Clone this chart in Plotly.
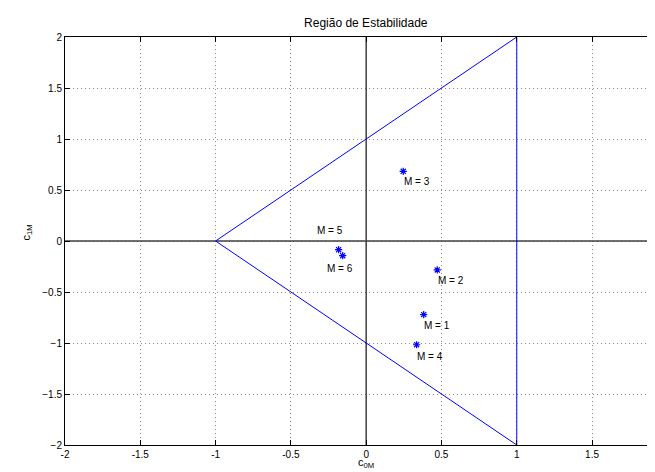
import plotly.graph_objects as go

# Stability region (triangle) vertices
tri_x = [-1, 1, 1, -1]
tri_y = [0, 2, -2, 0]

# Points for each M
m_labels = ["M = 1", "M = 2", "M = 3", "M = 4", "M = 5", "M = 6"]
c0 = [0.382, 0.472, 0.246, 0.335, -0.183, -0.156]
c1 = [-0.722, -0.284, 0.683, -1.017, -0.085, -0.144]
# Label anchor positions (left edge, vertical middle)
lab_x = [0.371, 0.464, 0.238, 0.326, -0.342, -0.272]
lab_y = [-0.827, -0.389, 0.585, -1.13, 0.105, -0.265]

x_ticks = [-2, -1.5, -1, -0.5, 0, 0.5, 1, 1.5, 2]
y_ticks = [-2, -1.5, -1, -0.5, 0, 0.5, 1, 1.5, 2]

FONT = "Liberation Sans, Arial, Helvetica, sans-serif"

fig = go.Figure()

# axes through origin
fig.add_trace(go.Scatter(x=[0, 0], y=[-2, 2], mode="lines",
                         line=dict(color="#404040", width=1.5), hoverinfo="skip"))
fig.add_trace(go.Scatter(x=[-2, 2], y=[0, 0], mode="lines",
                         line=dict(color="#404040", width=1.5), hoverinfo="skip"))
# triangle
fig.add_trace(go.Scatter(x=tri_x, y=tri_y, mode="lines",
                         line=dict(color="#0000ff", width=1)))
# points
fig.add_trace(go.Scatter(x=c0, y=c1, mode="markers",
                         marker=dict(symbol="asterisk-open", size=6,
                                     line=dict(color="#0000ff", width=1.2),
                                     color="#0000ff")))

for t, xx, yy in zip(m_labels, lab_x, lab_y):
    fig.add_annotation(x=xx, y=yy, xref="x", yref="y", text=t, showarrow=False,
                       xanchor="left", yanchor="middle",
                       font=dict(family=FONT, size=10, color="black"))

fig.add_annotation(x=0, xref="x", y=-0.045, yref="paper", text="c<sub>0M</sub>",
                   showarrow=False, xanchor="center", yanchor="middle",
                   font=dict(family=FONT, size=11, color="black"))
fig.add_annotation(x=-0.064, xref="paper", y=0.52, yref="paper", text="c<sub>1M</sub>",
                   showarrow=False, textangle=-90, xanchor="center", yanchor="middle",
                   font=dict(family=FONT, size=11, color="black"))

fig.update_layout(
    width=655, height=472,
    margin=dict(l=57, r=0, t=29, b=35),
    paper_bgcolor="white", plot_bgcolor="white",
    showlegend=False,
    font=dict(family=FONT, size=10, color="black"),
    title=dict(text="Região de Estabilidade", x=0.503, xref="paper",
               y=1 - 15 / 472, yref="container", xanchor="center", yanchor="middle",
               font=dict(family=FONT, size=12, color="black")),
    xaxis=dict(range=[-2, 1.971], tickvals=x_ticks, ticktext=[str(v) for v in x_ticks],
               ticks="inside", ticklen=5, tickcolor="black",
               showline=True, linecolor="black", linewidth=1, mirror="ticks",
               showgrid=True, gridcolor="#8c8c8c", gridwidth=1, griddash="1px,3px",
               zeroline=False, tickfont=dict(size=10)),
    yaxis=dict(range=[-2, 2], tickvals=y_ticks,
               ticks="inside", ticklen=5, tickcolor="black",
               showline=True, linecolor="black", linewidth=1, mirror=False,
               showgrid=True, gridcolor="#8c8c8c", gridwidth=1, griddash="1px,3px",
               zeroline=False, tickfont=dict(size=10)),
)

fig.write_html("out.html")
